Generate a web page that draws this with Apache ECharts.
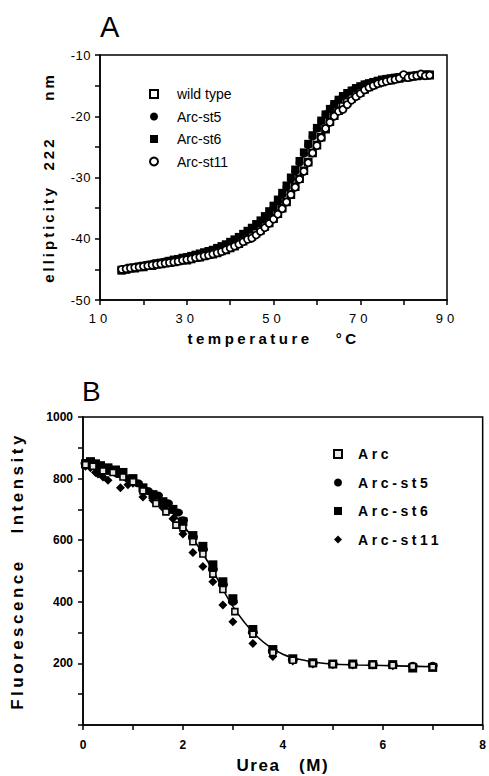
<!DOCTYPE html>
<html>
<head>
<meta charset="utf-8">
<script src="https://cdn.jsdelivr.net/npm/echarts@6/dist/echarts.min.js"></script>
<style>
  html, body { margin: 0; padding: 0; background: #fff; }
  #c { width: 489px; height: 776px; }
</style>
</head>
<body>
<div id="c"></div>
<script>
// ---------- Panel A : thermal denaturation (CD at 222 nm) ----------
const tempA = [15,16,17,18,19,20,21,22,23,24,25,26,27,28,29,30,31,32,33,34,35,36,37,38,39,40,41,42,43,44,45,46,47,48,49,50,51,52,53,54,55,56,57,58,59,60,61,62,63,64,65,66,67,68,69,70,71,72,73,74,75,76,77,78,79,80,81,82,83,84,85,86];
const wildType = [-45.1,-45.0,-44.8,-44.8,-44.6,-44.6,-44.4,-44.4,-44.2,-44.1,-44.0,-43.9,-43.8,-43.6,-43.5,-43.5,-43.3,-43.1,-43.0,-42.8,-42.6,-42.5,-42.3,-42.0,-41.8,-41.5,-41.2,-40.8,-40.4,-40.0,-39.6,-39.1,-38.6,-38.0,-37.4,-36.7,-35.9,-35.0,-34.0,-32.8,-31.5,-30.2,-28.9,-27.5,-26.0,-24.7,-23.4,-22.1,-20.9,-19.9,-19.1,-18.4,-17.7,-17.1,-16.6,-16.1,-15.6,-15.2,-14.9,-14.6,-14.4,-14.2,-14.1,-13.9,-13.8,-13.6,-13.6,-13.5,-13.4,-13.3,-13.3,-13.3];
const arcSt5A = [-45.1,-44.9,-44.7,-44.6,-44.5,-44.4,-44.2,-44.1,-44.0,-43.9,-43.7,-43.6,-43.5,-43.3,-43.2,-43.0,-42.9,-42.7,-42.5,-42.3,-42.1,-41.9,-41.6,-41.3,-41.0,-40.7,-40.3,-39.9,-39.5,-39.0,-38.5,-37.9,-37.3,-36.6,-35.8,-34.9,-33.9,-32.8,-31.6,-30.3,-29.0,-27.6,-26.1,-24.7,-23.3,-22.0,-20.8,-19.7,-18.8,-18.0,-17.3,-16.7,-16.2,-15.8,-15.4,-15.1,-14.8,-14.6,-14.4,-14.2,-14.1,-13.9,-13.8,-13.7,-13.6,-13.5,-13.5,-13.4,-13.3,-13.3,-13.2,-13.2];
const arcSt6A = [-45.2,-45.0,-44.8,-44.7,-44.6,-44.4,-44.3,-44.2,-44.0,-43.9,-43.8,-43.6,-43.4,-43.3,-43.1,-43.0,-42.8,-42.6,-42.4,-42.2,-42.0,-41.8,-41.5,-41.2,-40.9,-40.5,-40.1,-39.7,-39.2,-38.7,-38.2,-37.6,-37.0,-36.3,-35.5,-34.6,-33.6,-32.5,-31.3,-30.0,-28.7,-27.3,-25.9,-24.5,-23.1,-21.9,-20.7,-19.7,-18.8,-18.0,-17.3,-16.7,-16.2,-15.8,-15.4,-15.1,-14.8,-14.6,-14.4,-14.2,-14.0,-13.9,-13.8,-13.7,-13.6,-13.5,-13.4,-13.4,-13.3,-13.3,-13.2,-13.2];
const arcSt11A = [-45.0,-44.9,-44.8,-44.7,-44.6,-44.5,-44.4,-44.3,-44.2,-44.1,-44.0,-43.9,-43.8,-43.7,-43.5,-43.4,-43.3,-43.1,-43.0,-42.8,-42.7,-42.5,-42.3,-42.1,-41.8,-41.5,-41.2,-40.9,-40.5,-40.1,-39.9,-39.4,-38.8,-38.2,-37.5,-36.8,-36.0,-35.1,-34.0,-32.8,-31.6,-30.3,-29.0,-27.6,-26.0,-24.8,-23.5,-22.0,-21.0,-20.0,-19.2,-18.9,-18.1,-17.4,-16.8,-16.3,-15.7,-15.3,-15.0,-14.7,-14.5,-14.3,-14.1,-14.0,-13.8,-13.2,-13.7,-13.5,-13.4,-13.1,-13.4,-13.3];
const tickLabelsAX = [10,30,50,70,90];
const tickLabelsAY = [-10,-20,-30,-40,-50];

// ---------- Panel B : urea denaturation (fluorescence) ----------
const ureaArc = [0.05,0.2,0.4,0.6,0.8,1.0,1.2,1.46,1.66,1.86,2.0,2.2,2.4,2.6,2.8,3.04,3.4,3.8,4.2,4.6,5.0,5.4,5.8,6.2,6.6,7.0];
const fluoArc = [845,840,825,820,805,790,760,719,692,649,640,595,555,490,440,368,295,235,210,200,197,196,196,194,190,188];
const ureaSt5 = [0.05,0.1,0.15,0.2,0.3,0.4,0.5,0.7,0.9,1.1,1.3,1.5,1.7,1.9,2.0,2.2,2.4,2.6,2.8,3.0,3.4,3.8,4.2,4.6,5.0,5.4,5.8,6.2,6.6,7.0];
const fluoSt5 = [850,852,855,850,840,830,825,815,800,785,760,745,720,690,665,610,570,505,455,400,300,240,212,202,198,197,197,195,192,192];
const ureaSt6 = [0.05,0.15,0.25,0.35,0.5,0.65,0.8,1.0,1.2,1.4,1.6,1.8,2.0,2.2,2.4,2.6,2.8,3.0,3.4,3.8,4.2,4.6,5.0,5.4,5.8,6.2,6.6,7.0];
const fluoSt6 = [848,855,848,842,835,828,820,800,770,748,725,700,660,615,580,520,465,410,310,245,215,202,198,198,196,196,185,187];
const ureaSt11 = [0.05,0.15,0.25,0.3,0.4,0.5,0.75,0.9,1.0,1.2,1.4,1.6,1.8,2.0,2.2,2.4,2.6,2.8,3.0,3.4,3.8,4.2,4.6,5.0,5.4,5.8,6.2,6.6,7.0];
const fluoSt11 = [840,835,820,815,805,795,770,780,785,740,730,705,670,620,560,515,465,390,335,265,222,208,198,196,195,195,192,190,190];
const ureaFit = [0,0.5,1,1.5,2,2.5,3,3.5,4,4.5,5,5.5,6,6.5,7];
const fluoFit = [850,830,795,735,650,530,385,285,230,208,198,195,193,191,189];
const tickLabelsBX = [0,2,4,6,8];
const tickLabelsBY = [200,400,600,800,1000];

const legendA = ['wild type','Arc-st5','Arc-st6','Arc-st11'];
const legendB = ['Arc','Arc-st5','Arc-st6','Arc-st11'];

const zip = (xs, ys) => xs.map((x, i) => [x, ys[i]]);
const NB = '\u00a0';
const FONT = 'Liberation Sans, Arial, Helvetica, sans-serif';

const chart = echarts.init(document.getElementById('c'), null, { renderer: 'svg', width: 489, height: 776 });

const openStyle = { color: '#fff', borderColor: '#000', borderWidth: 1.7, opacity: 1 };
const fillStyle = { color: '#000', borderColor: '#000', borderWidth: 0, opacity: 1 };

chart.setOption({
  animation: false,
  backgroundColor: '#fff',
  textStyle: { fontFamily: FONT, color: '#000' },
  graphic: [
    { type: 'text', left: 100, top: 12, style: { text: 'A', font: '29px ' + FONT, fill: '#000' } },
    { type: 'text', left: 82, top: 377, style: { text: 'B', font: '28px ' + FONT, fill: '#000' } }
  ],
  grid: [
    { left: 100, top: 55, width: 347, height: 245, show: true, borderColor: '#000', borderWidth: 1.5, backgroundColor: 'transparent' },
    { left: 83, top: 417, width: 404, height: 308, show: true, borderColor: '#000', borderWidth: 1.5, backgroundColor: 'transparent' }
  ],
  legend: [
    {
      data: legendA, orient: 'vertical', left: 144, top: 82, itemWidth: 8, itemHeight: 8, itemGap: 8.5,
      selectedMode: false,
      textStyle: { fontFamily: FONT, fontSize: 14, color: '#000', padding: [0, 0, 0, 14] },
      formatter: n => n
    },
    {
      data: legendB.map(n => 'B:' + n), orient: 'vertical', left: 328, top: 442, itemWidth: 8, itemHeight: 8, itemGap: 14.5,
      selectedMode: false,
      textStyle: { fontFamily: FONT, fontSize: 14, fontWeight: 'bold', color: '#000', padding: [0, 0, 0, 11] },
      formatter: n => n.replace('B:', '')
    }
  ],
  xAxis: [
    {
      gridIndex: 0, type: 'value', min: 10, max: 90, interval: 10,
      name: 'temperature' + NB + NB + NB + '°C', nameLocation: 'middle', nameGap: 31,
      nameTextStyle: { fontFamily: FONT, fontSize: 15, fontWeight: 'bold', color: '#000' },
      axisLine: { lineStyle: { color: '#000', width: 1.5 } },
      axisTick: { show: true, length: 5, lineStyle: { color: '#000', width: 1.5 } },
      splitLine: { show: false },
      axisLabel: { margin: 12, fontSize: 13, color: '#000', fontFamily: FONT,
        formatter: v => tickLabelsAX.includes(v) ? String(v) : '' }
    },
    {
      gridIndex: 1, type: 'value', min: 0, max: 8, interval: 1,
      name: 'Urea' + NB + NB + NB + '(M)', nameLocation: 'middle', nameGap: 32,
      nameTextStyle: { fontFamily: FONT, fontSize: 17, fontWeight: 'bold', color: '#000' },
      axisLine: { lineStyle: { color: '#000', width: 1.5 } },
      axisTick: { show: true, length: 5, lineStyle: { color: '#000', width: 1.5 } },
      splitLine: { show: false },
      axisLabel: { margin: 14, fontSize: 12, fontWeight: 'bold', color: '#000', fontFamily: FONT,
        formatter: v => tickLabelsBX.includes(v) ? String(v) : '' }
    }
  ],
  yAxis: [
    {
      gridIndex: 0, type: 'value', min: -50, max: -10, interval: 5,
      name: 'ellipticity' + NB + NB + '222' + NB + NB + NB + NB + NB + 'nm', nameLocation: 'middle', nameGap: 44,
      nameTextStyle: { fontFamily: FONT, fontSize: 15, fontWeight: 'bold', color: '#000' },
      axisLine: { lineStyle: { color: '#000', width: 1.5 } },
      axisTick: { show: true, length: 5, lineStyle: { color: '#000', width: 1.5 } },
      splitLine: { show: false },
      axisLabel: { margin: 9, fontSize: 13, color: '#000', fontFamily: FONT,
        formatter: v => tickLabelsAY.includes(v) ? String(v) : '' }
    },
    {
      gridIndex: 1, type: 'value', min: 0, max: 1000, interval: 100,
      name: 'Fluorescence' + NB + NB + NB + 'Intensity', nameLocation: 'middle', nameGap: 57,
      nameTextStyle: { fontFamily: FONT, fontSize: 17, fontWeight: 'bold', color: '#000' },
      axisLine: { lineStyle: { color: '#000', width: 1.5 } },
      axisTick: { show: true, length: 5, lineStyle: { color: '#000', width: 1.5 } },
      splitLine: { show: false },
      axisLabel: { margin: 10, fontSize: 12, fontWeight: 'bold', color: '#000', fontFamily: FONT,
        formatter: v => tickLabelsBY.includes(v) ? String(v) : '' }
    }
  ],
  series: [
    // Panel A
    { name: 'Arc-st5', type: 'scatter', xAxisIndex: 0, yAxisIndex: 0, z: 2,
      data: zip(tempA, arcSt5A), symbol: 'circle', symbolSize: 8, itemStyle: fillStyle },
    { name: 'Arc-st6', type: 'scatter', xAxisIndex: 0, yAxisIndex: 0, z: 2,
      data: zip(tempA, arcSt6A), symbol: 'rect', symbolSize: 8, itemStyle: fillStyle },
    { name: 'wild type', type: 'scatter', xAxisIndex: 0, yAxisIndex: 0, z: 3,
      data: zip(tempA, wildType), symbol: 'rect', symbolSize: 7, itemStyle: openStyle },
    { name: 'Arc-st11', type: 'scatter', xAxisIndex: 0, yAxisIndex: 0, z: 4,
      data: zip(tempA, arcSt11A), symbol: 'circle', symbolSize: 7, itemStyle: openStyle },
    // Panel B
    { name: 'fit', type: 'line', xAxisIndex: 1, yAxisIndex: 1, z: 1, data: zip(ureaFit, fluoFit),
      smooth: 0.35, showSymbol: false, symbol: 'none', lineStyle: { color: '#000', width: 1.6 } },
    { name: 'B:Arc-st5', type: 'scatter', xAxisIndex: 1, yAxisIndex: 1, z: 2,
      data: zip(ureaSt5, fluoSt5), symbol: 'circle', symbolSize: [10, 8], itemStyle: fillStyle },
    { name: 'B:Arc-st6', type: 'scatter', xAxisIndex: 1, yAxisIndex: 1, z: 2,
      data: zip(ureaSt6, fluoSt6), symbol: 'rect', symbolSize: 9, itemStyle: fillStyle },
    { name: 'B:Arc-st11', type: 'scatter', xAxisIndex: 1, yAxisIndex: 1, z: 2,
      data: zip(ureaSt11, fluoSt11), symbol: 'diamond', symbolSize: 9, itemStyle: fillStyle },
    { name: 'B:Arc', type: 'scatter', xAxisIndex: 1, yAxisIndex: 1, z: 3,
      data: zip(ureaArc, fluoArc), symbol: 'rect', symbolSize: 6,
      itemStyle: { color: '#e6e6e6', borderColor: '#000', borderWidth: 1.6, opacity: 1 } }
  ]
});

// letter spacing to mimic the widely tracked lettering of the original figure
function track() {
  const texts = document.querySelectorAll('#c text');
  texts.forEach(el => {
    const t = el.textContent;
    let s = null;
    if (tickLabelsAX.map(String).includes(t)) s = 4;
    else if (/^-\d0$/.test(t)) s = 0.5;
    else if (t.startsWith('temperature')) s = 3.5;
    else if (t.startsWith('ellipticity')) s = 3;
    else if (t.startsWith('Fluorescence')) s = 3.5;
    else if (t.startsWith('Urea')) s = 1.5;
    else if (legendB.includes(t)) {
      const box = el.getBBox ? el.getBBox() : null;
      const ctm = el.getCTM ? el.getCTM() : null;
      const x = box && ctm ? box.x * ctm.a + ctm.e : 0;
      if (x > 300) s = 3.6;
    }
    if (s != null) el.style.letterSpacing = s + 'px';
  });
}
track();
</script>
</body>
</html>
